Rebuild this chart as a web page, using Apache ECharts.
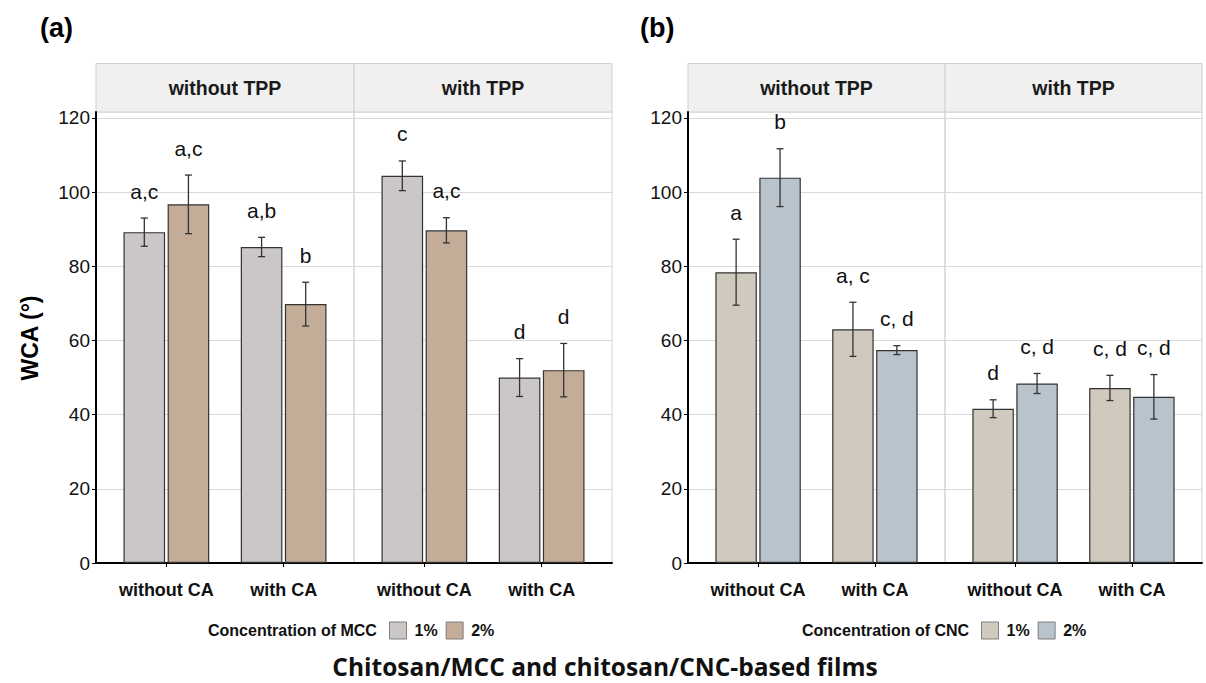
<!DOCTYPE html>
<html>
<head>
<meta charset="utf-8">
<script src="https://cdn.jsdelivr.net/npm/echarts@6/dist/echarts.min.js"></script>
<style>html,body{margin:0;padding:0;background:#fff;}#c{width:1206px;height:683px;}</style>
</head>
<body>
<div id="c"></div>
<script>
// ---------- data ----------
const categories = ['without CA', 'with CA'];
const facets = ['without TPP', 'with TPP'];
const yTicks = [0, 20, 40, 60, 80, 100, 120];
const concLabels = ['1%', '2%'];
// order: [withoutTPP/withoutCA, withoutTPP/withCA, withTPP/withoutCA, withTPP/withCA]
const mcc1 = [89.2, 85.2, 104.4, 50.0];
const mcc1Sd = [3.8, 2.6, 4.0, 5.1];
const mcc2 = [96.7, 69.8, 89.7, 52.0];
const mcc2Sd = [7.9, 5.9, 3.4, 7.2];
const mccLetters1 = ['a,c', 'a,b', 'c', 'd'];
const mccLetters2 = ['a,c', 'b', 'a,c', 'd'];
const cnc1 = [78.4, 63.0, 41.6, 47.2];
const cnc1Sd = [8.9, 7.3, 2.4, 3.4];
const cnc2 = [103.9, 57.4, 48.4, 44.8];
const cnc2Sd = [7.8, 1.2, 2.7, 6.0];
const cncLetters1 = ['a', 'a, c', 'd', 'c, d'];
const cncLetters2 = ['b', 'c, d', 'c, d', 'c, d'];

// ---------- layout ----------
const FONT = "'Liberation Sans', Arial, sans-serif";
const plotTop = 112, plotBottom = 563;
const yMax = 121.6;
const panels = [
  { key: 'MCC', left: 96, facetW: 258, means: [mcc1, mcc2], sds: [mcc1Sd, mcc2Sd], letters: [mccLetters1, mccLetters2],
    colors: ['#cbc7c7', '#c4ad98'], legendLeft: 389, legendTitleX: 208, tag: '(a)', tagX: 40 },
  { key: 'CNC', left: 688, facetW: 257, means: [cnc1, cnc2], sds: [cnc1Sd, cnc2Sd], letters: [cncLetters1, cncLetters2],
    colors: ['#d0c9bd', '#b8c3cb'], legendLeft: 981, legendTitleX: 802, tag: '(b)', tagX: 640 }
];
const BAR_FRAC = 0.355, OFFSET_FRAC = 0.188;

const grid = [], xAxis = [], yAxis = [], series = [], graphic = [], legend = [];

panels.forEach((p, pi) => {
  facets.forEach((f, fi) => {
    const fl = p.left + fi * p.facetW;
    const gBg = grid.length;
    grid.push({ left: fl, top: plotTop, width: p.facetW, height: plotBottom - plotTop,
      show: true, borderColor: '#d4d4d4', borderWidth: 1, backgroundColor: 'transparent' });
    xAxis.push({ gridIndex: gBg, type: 'category', data: [''],
      axisLine: { show: true, lineStyle: { color: '#000', width: 2 } },
      axisTick: { show: false }, axisLabel: { show: false }, splitLine: { show: false } });
    yAxis.push({ gridIndex: gBg, type: 'value', min: 0, max: yMax, interval: 20,
      axisLine: { show: fi === 0, onZero: false, lineStyle: { color: '#000', width: 2 } },
      axisTick: { show: fi === 0, length: 4, customValues: yTicks, lineStyle: { color: '#000', width: 1 } },
      axisLabel: { show: fi === 0, customValues: yTicks, margin: 6, fontSize: 19, color: '#111', fontFamily: FONT,
        formatter: v => (yTicks.indexOf(v) >= 0 ? String(v) : '') },
      splitLine: { show: true, lineStyle: { color: '#d9d9d9', width: 1 } } });
    const inset = p.facetW * 0.1 / 2.2;
    const gB = grid.length;
    grid.push({ left: fl + inset, top: plotTop, width: p.facetW - 2 * inset, height: plotBottom - plotTop, show: false });
    xAxis.push({ gridIndex: gB, type: 'category', data: categories,
      axisLine: { show: false },
      axisTick: { show: true, alignWithLabel: true, length: 4, lineStyle: { color: '#000' } },
      axisLabel: { interval: 0, hideOverlap: false, margin: 18, fontSize: 18, fontWeight: 'bold', color: '#111', fontFamily: FONT } });
    yAxis.push({ gridIndex: gB, type: 'value', min: 0, max: yMax, interval: 20, show: false, splitLine: { show: false } });

    [0, 1].forEach(ci => {
      const idx = [fi * 2, fi * 2 + 1];
      const means = idx.map(i => p.means[ci][i]);
      const sds = idx.map(i => p.sds[ci][i]);
      const lets = idx.map(i => p.letters[ci][i]);
      series.push({ type: 'bar', name: p.key + ' ' + concLabels[ci], xAxisIndex: gB, yAxisIndex: gB,
        data: means, barWidth: (BAR_FRAC * 100) + '%', barGap: '6%',
        itemStyle: { color: p.colors[ci], borderColor: '#333', borderWidth: 1.2 }, silent: true });
      const sign = ci === 0 ? -1 : 1;
      series.push({ type: 'custom', xAxisIndex: gB, yAxisIndex: gB, silent: true, z: 5,
        data: means.map((m, k) => [k, m, sds[k]]),
        encode: { x: 0, y: 1 },
        renderItem: (params, api) => {
          const k = api.value(0), m = api.value(1), s = api.value(2);
          const bw = api.size([1, 0])[0];
          const top = api.coord([k, m + s]);
          const bot = api.coord([k, m - s]);
          const x = top[0] + sign * bw * OFFSET_FRAC;
          const cap = 3.5;
          const st = { stroke: '#333', lineWidth: 1.3 };
          return { type: 'group', children: [
            { type: 'line', shape: { x1: x, y1: top[1], x2: x, y2: bot[1] }, style: st },
            { type: 'line', shape: { x1: x - cap, y1: top[1], x2: x + cap, y2: top[1] }, style: st },
            { type: 'line', shape: { x1: x - cap, y1: bot[1], x2: x + cap, y2: bot[1] }, style: st },
            { type: 'text', x: x, y: top[1] - 27, style: { text: lets[params.dataIndex], textAlign: 'center',
              textVerticalAlign: 'middle', font: '21px ' + FONT, fill: '#111' } }
          ] };
        } });
    });

    graphic.push({ type: 'rect', shape: { x: fl, y: 63.5, width: p.facetW, height: 48.5 },
      style: { fill: '#f0f0f0', stroke: '#d0d0d0', lineWidth: 1 }, silent: true });
    graphic.push({ type: 'text', x: fl + p.facetW / 2, y: 87.5, silent: true,
      style: { text: f, textAlign: 'center', textVerticalAlign: 'middle', font: 'bold 19.5px ' + FONT, fill: '#1a1a1a' } });
  });

  legend.push({ data: [p.key + ' 1%', p.key + ' 2%'], left: p.legendLeft, top: 621.5, orient: 'horizontal', padding: 0,
    icon: 'rect', itemWidth: 17, itemHeight: 17, itemGap: 8, selectedMode: false,
    itemStyle: { borderColor: '#7f7f7f', borderWidth: 1 },
    formatter: n => n.split(' ')[1],
    textStyle: { fontSize: 16, fontWeight: 'bold', color: '#111', fontFamily: FONT, padding: [0, 0, 0, 3] } });
  graphic.push({ type: 'text', x: p.legendTitleX, y: 630, silent: true,
    style: { text: 'Concentration of ' + p.key, textVerticalAlign: 'middle', font: 'bold 16px ' + FONT, fill: '#111' } });
  graphic.push({ type: 'text', x: p.tagX, y: 28, silent: true,
    style: { text: p.tag, textVerticalAlign: 'middle', font: 'bold 27px ' + FONT, fill: '#000' } });
});

graphic.push({ type: 'text', x: 30, y: 338, rotation: Math.PI / 2, silent: true,
  style: { text: 'WCA (°)', textAlign: 'center', textVerticalAlign: 'middle', font: 'bold 23px ' + FONT, fill: '#000' } });
graphic.push({ type: 'text', x: 605, y: 666, silent: true,
  style: { text: 'Chitosan/MCC and chitosan/CNC-based films', textAlign: 'center', textVerticalAlign: 'middle',
    font: "bold 24.5px 'Open Sans', " + FONT, fill: '#111' } });

const chart = echarts.init(document.getElementById('c'), null, { renderer: 'svg' });
chart.setOption({ animation: false, backgroundColor: '#fff', grid, xAxis, yAxis, series, legend, graphic });
</script>
</body>
</html>
